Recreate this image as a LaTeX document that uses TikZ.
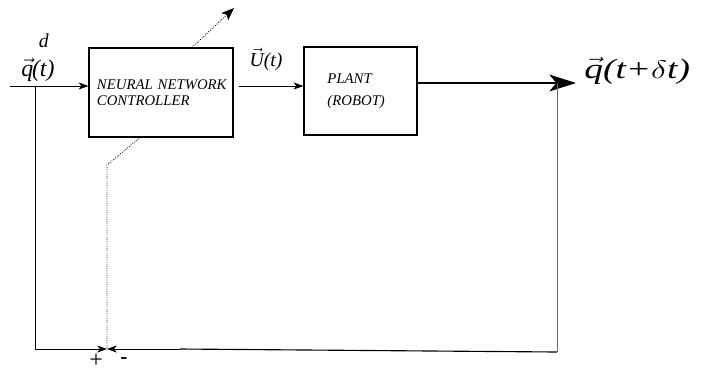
\documentclass[tikz,border=0pt]{standalone}
\usepackage{amsmath}
\usepackage{fontspec}
\setmainfont{Liberation Serif}
\usepackage{tikz}
\usetikzlibrary{arrows.meta,calc}
\newcommand{\vq}{\vec{\text{\itshape q}}}
\tikzset{
  blockbox/.style = {draw, thick, align=left, inner sep=0pt, font=\itshape\fontsize{10.5}{11.5}\selectfont},
  sigline/.style  = {-{Stealth[length=7pt,width=5pt,inset=2pt]}, semithick},
  bigarr/.style   = {-{Stealth[length=19pt,width=12pt,inset=5pt]}, thick},
  adaptln/.style  = {densely dotted, semithick}
}

\begin{document}
\begin{tikzpicture}[x=0.025cm,y=-0.025cm]
  \useasboundingbox (0,0) rectangle (702,371);
  \node[blockbox,minimum width=3.6cm,minimum height=2.225cm,text width=3.2cm] (nn) at (161,92.5)
       {\mbox{NEURAL NETWORK}\\CONTROLLER\\[2.2ex]};
  \node[blockbox,minimum width=2.825cm,minimum height=2.2cm,text width=1.65cm] (plant) at (360.5,91)
       {PLANT\\[0.8ex](ROBOT)\\[7.5ex]};
  \coordinate (qin)  at (10,86);
  \coordinate (tap)  at (35,86);
  \coordinate (qout) at (557,83);
  \coordinate (tip)  at (576,83);
  \coordinate (fbl)  at (35,349);
  \coordinate (sum)  at (107,349);
  \coordinate (fbm)  at (180,349);
  \coordinate (fbr)  at (557,352);
  \coordinate (bend) at (107,165);
  \coordinate (adapt) at (234,8);
  % forward path
  \draw[sigline] (qin) -- (qin -| nn.west);
  \draw[sigline] ($(nn.east |- qin)+(5,0)$) -- (plant.west |- qin);
  \draw[bigarr] (plant.east |- qout) -- (tip);
  % feedback
  \draw[sigline] (tap) -- (fbl) -- (sum);
  \draw[gray!80!black] (qout) -- (fbr);
  \draw[thick] (fbr) -- (fbm);
  \draw[sigline] (fbm) -- (sum);
  % learning signal
  \draw[adaptln] ($(nn.south)+(-21,0)$) -- (bend) -- (sum);
  \draw[adaptln,-{Stealth[length=9pt,width=7pt,inset=2pt]}] ($(nn.north)+(31,0)$) -- (adapt);
  % labels
  \node[font=\fontsize{17}{19}\selectfont,inner sep=0pt] (qd) at (38,58)
       {$\vq\mkern-1mu\text{\itshape (t)}\llap{\raisebox{1.2em}{\fontsize{14}{15}\selectfont\itshape d}\hspace{0.25em}}$};
  \node[font=\fontsize{14}{15}\selectfont,inner sep=0pt] (ulab) at (266,59)
       {$\vec{\text{\itshape U}}\text{\itshape (t)}$};
  \node[anchor=west,inner sep=0pt,xscale=1.4,yscale=1.05,font=\fontsize{19}{21}\selectfont] (qlab) at ($(tip)+(8,-12)$)
       {$\vq\text{\itshape (t+}\delta\text{\itshape t)}$};
  \node[font=\fontsize{17}{18}\selectfont,inner sep=0pt] (plus) at (96,361) {+};
  \node[font=\bfseries\fontsize{15}{16}\selectfont,inner sep=0pt] (minus) at (124,361) {-};
\end{tikzpicture}
\end{document}
